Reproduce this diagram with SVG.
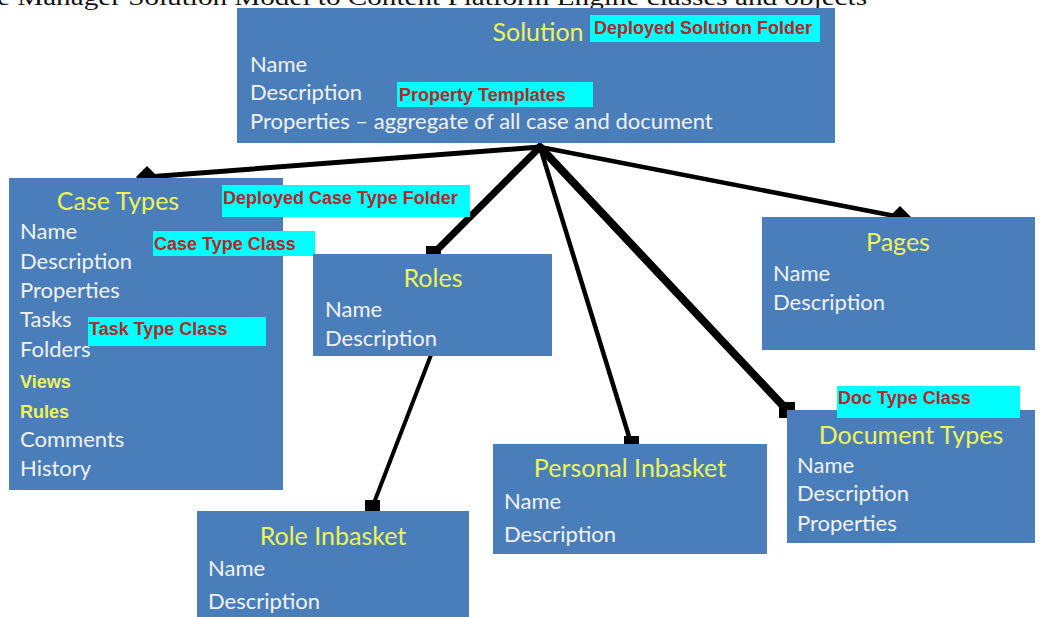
<svg xmlns="http://www.w3.org/2000/svg" width="1048" height="617" viewBox="0 0 1048 617">
<style>
.box{fill:#4a7ebb;}
.hl{fill:#00ffff;}
.t{font-family:Lato,"Open Sans",sans-serif;font-size:22px;fill:#f2f2f2;}
.ti{font-family:Lato,"Open Sans",sans-serif;font-size:25px;fill:#eef35a;text-anchor:middle;}
.r{font-family:"Liberation Sans",Arial,sans-serif;font-size:18px;font-weight:bold;fill:#b5282a;}
.y{font-family:"Liberation Sans",Arial,sans-serif;font-size:18px;font-weight:bold;fill:#eef35a;}
.c{stroke:#000;fill:none;stroke-linecap:round;}
.end{fill:#000;}
</style>
<rect width="1048" height="617" fill="#ffffff"/>
<text x="-3" y="5" font-family="'Liberation Serif',serif" font-size="24" fill="#111" textLength="870" lengthAdjust="spacingAndGlyphs">e Manager Solution Model to Content Platform Engine classes and objects</text>

<g id="connectors">
<line class="c" x1="540" y1="147" x2="147" y2="177" stroke-width="5"/>
<line class="c" x1="540" y1="147" x2="433" y2="254" stroke-width="7"/>
<line class="c" x1="540" y1="147" x2="631" y2="443" stroke-width="4.5"/>
<line class="c" x1="540" y1="147" x2="787" y2="410" stroke-width="8"/>
<line class="c" x1="540" y1="147" x2="900" y2="217" stroke-width="4.5"/>
<line class="c" x1="431" y1="355" x2="372" y2="508" stroke-width="4"/>
<path class="end" d="M147 166 L158 177 L147 188 L136 177 Z"/>
<path class="end" d="M900 206 L911 217 L900 228 L889 217 Z"/>
<rect class="end" x="426" y="246" width="15" height="15"/>
<rect class="end" x="365" y="500" width="15" height="15"/>
<rect class="end" x="624" y="436" width="15" height="15"/>
<rect class="end" x="779" y="402" width="16" height="16"/>
</g>

<g id="solution">
<rect class="box" x="237" y="8" width="598" height="135"/>
<rect class="hl" x="590" y="15" width="230" height="27"/>
<text class="ti" x="538" y="41" font-size="26">Solution</text>
<text class="r" x="594" y="34">Deployed Solution Folder</text>
<text class="t" x="250" y="72">Name</text>
<rect class="hl" x="397" y="82" width="196" height="25"/>
<text class="r" x="399" y="101">Property Templates</text>
<text class="t" x="250" y="100">Description</text>
<text class="t" x="250" y="129">Properties – aggregate of all case and document</text>
</g>

<g id="case-types">
<rect class="box" x="9" y="178" width="274" height="312"/>
<text class="ti" x="118" y="210">Case Types</text>
<rect class="hl" x="222" y="185" width="248" height="32"/>
<text class="r" x="223" y="204">Deployed Case Type Folder</text>
<text class="t" x="20" y="239">Name</text>
<rect class="hl" x="153" y="231" width="162" height="25"/>
<text class="r" x="154" y="250">Case Type Class</text>
<text class="t" x="20" y="269">Description</text>
<text class="t" x="20" y="298">Properties</text>
<text class="t" x="20" y="327">Tasks</text>
<rect class="hl" x="88" y="317" width="178" height="29"/>
<text class="r" x="89" y="335">Task Type Class</text>
<text class="t" x="20" y="357">Folders</text>
<text class="y" x="20" y="388">Views</text>
<text class="y" x="20" y="418">Rules</text>
<text class="t" x="20" y="447">Comments</text>
<text class="t" x="20" y="476">History</text>
</g>

<g id="roles">
<rect class="box" x="313" y="254" width="239" height="102"/>
<text class="ti" x="433" y="287">Roles</text>
<text class="t" x="325" y="317">Name</text>
<text class="t" x="325" y="346">Description</text>
</g>

<g id="role-inbasket">
<rect class="box" x="197" y="511" width="272" height="110"/>
<text class="ti" x="333" y="545">Role Inbasket</text>
<text class="t" x="208" y="576">Name</text>
<text class="t" x="208" y="609">Description</text>
</g>

<g id="personal-inbasket">
<rect class="box" x="493" y="444" width="274" height="110"/>
<text class="ti" x="630" y="477">Personal Inbasket</text>
<text class="t" x="504" y="509">Name</text>
<text class="t" x="504" y="542">Description</text>
</g>

<g id="pages">
<rect class="box" x="762" y="217" width="273" height="133"/>
<text class="ti" x="898" y="251">Pages</text>
<text class="t" x="773" y="281">Name</text>
<text class="t" x="773" y="310">Description</text>
</g>

<g id="document-types">
<rect class="box" x="787" y="410" width="248" height="133"/>
<rect class="hl" x="837" y="386" width="183" height="32"/>
<text class="r" x="838" y="404">Doc Type Class</text>
<text class="ti" x="911" y="444">Document Types</text>
<text class="t" x="797" y="473">Name</text>
<text class="t" x="797" y="501">Description</text>
<text class="t" x="797" y="531">Properties</text>
</g>
</svg>
